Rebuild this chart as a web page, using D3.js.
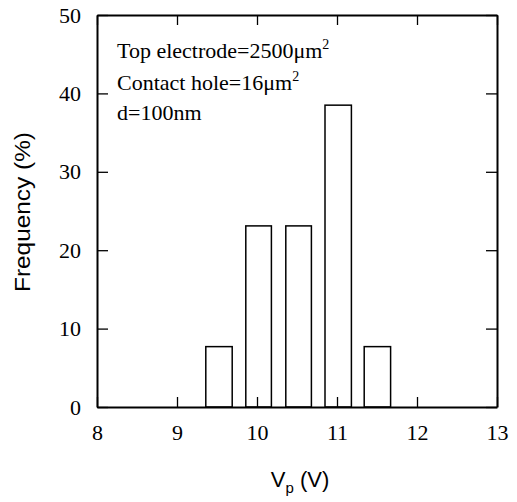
<!DOCTYPE html>
<html>
<head>
<meta charset="utf-8">
<script src="https://cdn.jsdelivr.net/npm/d3@7"></script>
<style>
  body { margin: 0; background: #fff; }
</style>
</head>
<body>
<svg id="chart" width="517" height="502"></svg>
<script>
// histogram bins (V) and frequency (%)
const binStart = [9.36, 9.86, 10.36, 10.85, 11.34];
const binEnd = [9.69, 10.18, 10.68, 11.18, 11.67];
const frequency = [7.7, 23.1, 23.1, 38.5, 7.7];

const xTicks = [8, 9, 10, 11, 12, 13];
const yTicks = [0, 10, 20, 30, 40, 50];
const notes = ["Top electrode=2500μm", "Contact hole=16μm", "d=100nm"];
const noteSup = ["2", "2", ""];

const SERIF = "'Liberation Serif', 'Times New Roman', serif";
const SANS = "'Liberation Sans', Arial, sans-serif";

const margin = {left: 97, top: 15, right: 20, bottom: 95};
const width = 517 - margin.left - margin.right;
const height = 502 - margin.top - margin.bottom;

const x = d3.scaleLinear().domain([8, 13]).range([0, width]);
const y = d3.scaleLinear().domain([0, 50]).range([height, 0]);

const svg = d3.select("svg#chart");
const g = svg.append("g").attr("transform", `translate(${margin.left},${margin.top})`);

// bars
g.selectAll(".bar")
  .data(frequency)
  .join("rect")
  .attr("class", "bar")
  .attr("x", (d, i) => x(binStart[i]))
  .attr("width", (d, i) => x(binEnd[i]) - x(binStart[i]))
  .attr("y", d => y(d))
  .attr("height", d => y(0) - y(d))
  .attr("fill", "none")
  .attr("stroke", "#000")
  .attr("stroke-width", 1.5);

function style(a) {
  a.attr("font-family", SERIF).attr("font-size", 22);
  a.select(".domain").attr("stroke", "#000").attr("stroke-width", 2);
  a.selectAll(".tick line").attr("stroke", "#000").attr("stroke-width", 1.3);
  a.selectAll(".tick text").attr("fill", "#000");
}

// axes, ticks pointing inward
g.append("g")
  .attr("transform", `translate(0,${height})`)
  .call(d3.axisBottom(x).tickValues(xTicks).tickFormat(d3.format("d"))
    .tickSizeInner(-10).tickSizeOuter(0).tickPadding(20))
  .call(style)
  .call(a => a.selectAll(".tick text").attr("dy", "0.6em"));

g.append("g")
  .call(d3.axisTop(x).tickValues(xTicks).tickSizeInner(-10).tickSizeOuter(0).tickFormat(""))
  .call(style);

g.append("g")
  .call(d3.axisLeft(y).tickValues(yTicks).tickFormat(d3.format("d"))
    .tickSizeInner(-11).tickSizeOuter(0).tickPadding(16))
  .call(style);

g.append("g")
  .attr("transform", `translate(${width},0)`)
  .call(d3.axisRight(y).tickValues(yTicks).tickSizeInner(-11).tickSizeOuter(0).tickFormat(""))
  .call(style);

// annotation
const noteText = g.selectAll(".note")
  .data(notes)
  .join("text")
  .attr("class", "note")
  .attr("x", 20)
  .attr("y", (d, i) => [43, 75, 105][i])
  .attr("font-family", SERIF)
  .attr("font-size", 22)
  .text(d => d);
noteText.append("tspan")
  .attr("dy", -9)
  .attr("font-size", 14)
  .text((d, i) => noteSup[i]);

// axis titles
svg.append("text")
  .attr("transform", `translate(30,212) rotate(-90)`)
  .attr("text-anchor", "middle")
  .attr("font-family", SANS)
  .attr("font-size", 22)
  .attr("textLength", 160)
  .attr("lengthAdjust", "spacingAndGlyphs")
  .text("Frequency (%)");

const xl = svg.append("text")
  .attr("x", 300)
  .attr("y", 487)
  .attr("text-anchor", "middle")
  .attr("font-family", SANS)
  .attr("font-size", 22);
xl.append("tspan").text("V");
xl.append("tspan").attr("font-size", 15).attr("dy", 6).text("p");
xl.append("tspan").attr("dy", -6).text(" (V)");
</script>
</body>
</html>
